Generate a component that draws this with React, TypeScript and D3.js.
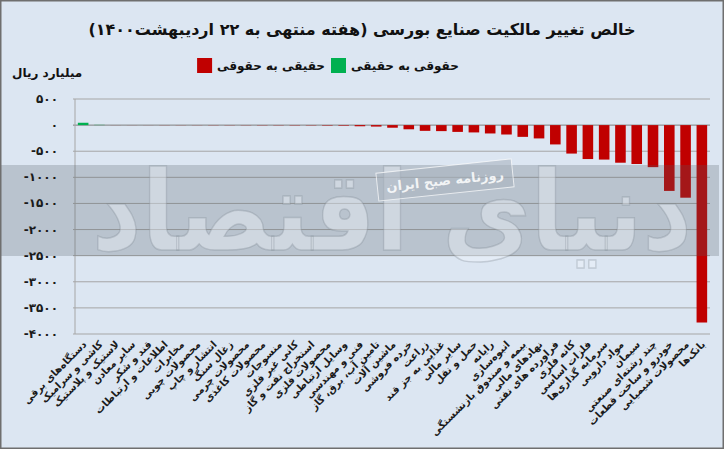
import React, { useLayoutEffect, useRef, useState } from 'react';
import * as d3 from 'd3';

const categories = [
  'دستگاه‌های برقی', 'کاشی و سرامیک', 'لاستیک و پلاستیک', 'سایر معادن', 'قند و شکر',
  'اطلاعات و ارتباطات', 'مخابرات', 'محصولات چوبی', 'انتشار و چاپ', 'زغال سنگ',
  'محصولات چرمی', 'محصولات کاغذی', 'منسوجات', 'کانی غیر فلزی', 'استخراج نفت و گاز',
  'محصولات فلزی', 'وسایل ارتباطی', 'فنی و مهندسی', 'تامین آب، برق، گاز', 'ماشین آلات',
  'خرده فروشی', 'زراعت', 'غذایی به جز قند', 'سایر مالی', 'حمل و نقل',
  'رایانه', 'انبوه‌سازی', 'بیمه و صندوق بازنشستگی', 'نهادهای مالی', 'فراورده های نفتی',
  'کانه فلزی', 'فلزات اساسی', 'سرمایه گذاری‌ها', 'مواد دارویی', 'سیمان',
  'چند رشته‌ای صنعتی', 'خودرو و ساخت قطعات', 'محصولات شیمیایی', 'بانک‌ها',
];

const values = [
  45, 5, -1, -1, -1, -2, -2, -2, -3, -3,
  -3, -4, -4, -5, -5, -8, -10, -22, -28, -50,
  -80, -110, -115, -130, -140, -160, -180, -225, -255, -370,
  -545, -650, -660, -720, -745, -805, -1260, -1390, -3780,
];

const yTicks = [500, 0, -500, -1000, -1500, -2000, -2500, -3000, -3500, -4000];

const title = 'خالص تغییر مالکیت صنایع بورسی (هفته منتهی به ۲۲ اردیبهشت۱۴۰۰)';
const unitLabel = 'میلیارد ریال';
const legendNegative = 'حقیقی به حقوقی';
const legendPositive = 'حقوقی به حقیقی';
const watermarkMain = 'دنیای اقتصاد';
const watermarkSub = 'روزنامه صبح ایران';

const W = 724;
const H = 449;
const FONT = '"DejaVu Sans", sans-serif';
const RED = '#C00000';
const GREEN = '#00B050';

const toFa = (n: number) =>
  String(n).replace(/\d/g, (d) => '۰۱۲۳۴۵۶۷۸۹'[+d]);

export default function App() {
  const wmRef = useRef<SVGTextElement>(null);
  const leg1Ref = useRef<SVGTextElement>(null);
  const leg2Ref = useRef<SVGTextElement>(null);
  const [wmW, setWmW] = useState(615);
  const [l1W, setL1W] = useState(90);
  const [l2W, setL2W] = useState(90);

  useLayoutEffect(() => {
    if (wmRef.current) setWmW(wmRef.current.getComputedTextLength() || 615);
    if (leg1Ref.current) setL1W(leg1Ref.current.getComputedTextLength() || 90);
    if (leg2Ref.current) setL2W(leg2Ref.current.getComputedTextLength() || 90);
  }, []);

  const x = d3
    .scaleBand<string>()
    .domain(categories)
    .range([75, 710])
    .paddingInner(0.35)
    .paddingOuter(0.175);
  const y = d3.scaleLinear().domain([-4000, 500]).range([334, 99]);

  const data = categories.map((c, i) => ({ c, v: values[i] }));

  // legend layout: [red][text1][green][text2]
  const sq = 15;
  const gap = 5;
  const sep = 6;
  const legTotal = sq + gap + l1W + sep + sq + gap + l2W;
  const legX0 = 328 - legTotal / 2;
  const t1x = legX0 + sq + gap;
  const gx = t1x + l1W + sep;
  const t2x = gx + sq + gap;

  const wmScale = 600 / wmW;

  return (
    <svg
      width={W}
      height={H}
      style={{ position: 'absolute', left: 0, top: 0, fontFamily: FONT }}
    >
      <rect x={0} y={0} width={W} height={H} fill="#dce6f2" />

      {/* gridlines */}
      {yTicks.map((t) => (
        <line
          key={'g' + t}
          x1={73}
          x2={710}
          y1={y(t)}
          y2={y(t)}
          stroke={t === 0 ? '#7f7f7f' : '#a6a6a6'}
          strokeWidth={1}
        />
      ))}
      <line x1={75} x2={75} y1={y(500)} y2={y(-4000)} stroke="#a6a6a6" />

      {/* bars */}
      {data.map((d) => (
        <rect
          key={d.c}
          x={x(d.c)!}
          width={x.bandwidth()}
          y={Math.min(y(0), y(d.v))}
          height={Math.abs(y(d.v) - y(0))}
          fill={d.v >= 0 ? GREEN : RED}
        />
      ))}

      {/* watermark band */}
      <rect x={0} y={165} width={719} height={91} fill="rgba(80,90,100,0.25)" />
      <g transform={`translate(392,250) scale(${wmScale},1)`}>
        <text
          ref={wmRef}
          x={0}
          y={0}
          textAnchor="middle"
          fontSize={110}
          fontWeight="bold"
          fill="rgba(240,245,252,0.4)"
          stroke="rgba(120,128,140,0.3)"
          strokeWidth={1.5}
        >
          {watermarkMain}
        </text>
      </g>
      <g transform="translate(445,180) rotate(-6)">
        <rect x={-68} y={-14} width={136} height={28} fill="rgba(170,180,192,0.6)" stroke="rgba(255,255,255,0.7)" />
        <text textAnchor="middle" y={5} fontSize={13} fontWeight="bold" fill="rgba(255,255,255,0.85)">
          {watermarkSub}
        </text>
      </g>

      {/* y tick labels */}
      {yTicks.map((t) => (
        <text
          key={'t' + t}
          x={58}
          y={y(t) + 4}
          textAnchor="end"
          fontSize={12}
          fontWeight="bold"
          fill="#1a1a1a"
        >
          {t < 0 ? '-' + toFa(-t) : toFa(t)}
        </text>
      ))}

      {/* x labels */}
      {categories.map((c) => {
        const cx = x(c)! + x.bandwidth() / 2 + 4;
        return (
          <text
            key={'x' + c}
            transform={`translate(${cx},345) rotate(-45)`}
            textAnchor="end"
            fontSize={10}
            fontWeight="bold"
            fill="#1a1a1a"
          >
            {c}
          </text>
        );
      })}

      {/* title */}
      <text
        x={362}
        y={35}
        textAnchor="middle"
        fontSize={16}
        fontWeight="bold"
        direction="rtl"
        fill="#111"
      >
        {title}
      </text>

      {/* legend */}
      <rect x={legX0} y={58} width={sq} height={sq} fill={RED} />
      <text ref={leg1Ref} x={t1x} y={70} textAnchor="start" fontSize={12} fontWeight="bold" fill="#111">
        {legendNegative}
      </text>
      <rect x={gx} y={58} width={sq} height={sq} fill={GREEN} />
      <text ref={leg2Ref} x={t2x} y={70} textAnchor="start" fontSize={12} fontWeight="bold" fill="#111">
        {legendPositive}
      </text>

      <text x={12} y={77} fontSize={12} fontWeight="bold" fill="#111">
        {unitLabel}
      </text>

      <rect x={0.75} y={0.75} width={W - 1.5} height={H - 1.5} fill="none" stroke="#6f6f6f" strokeWidth={1.5} />
    </svg>
  );
}
